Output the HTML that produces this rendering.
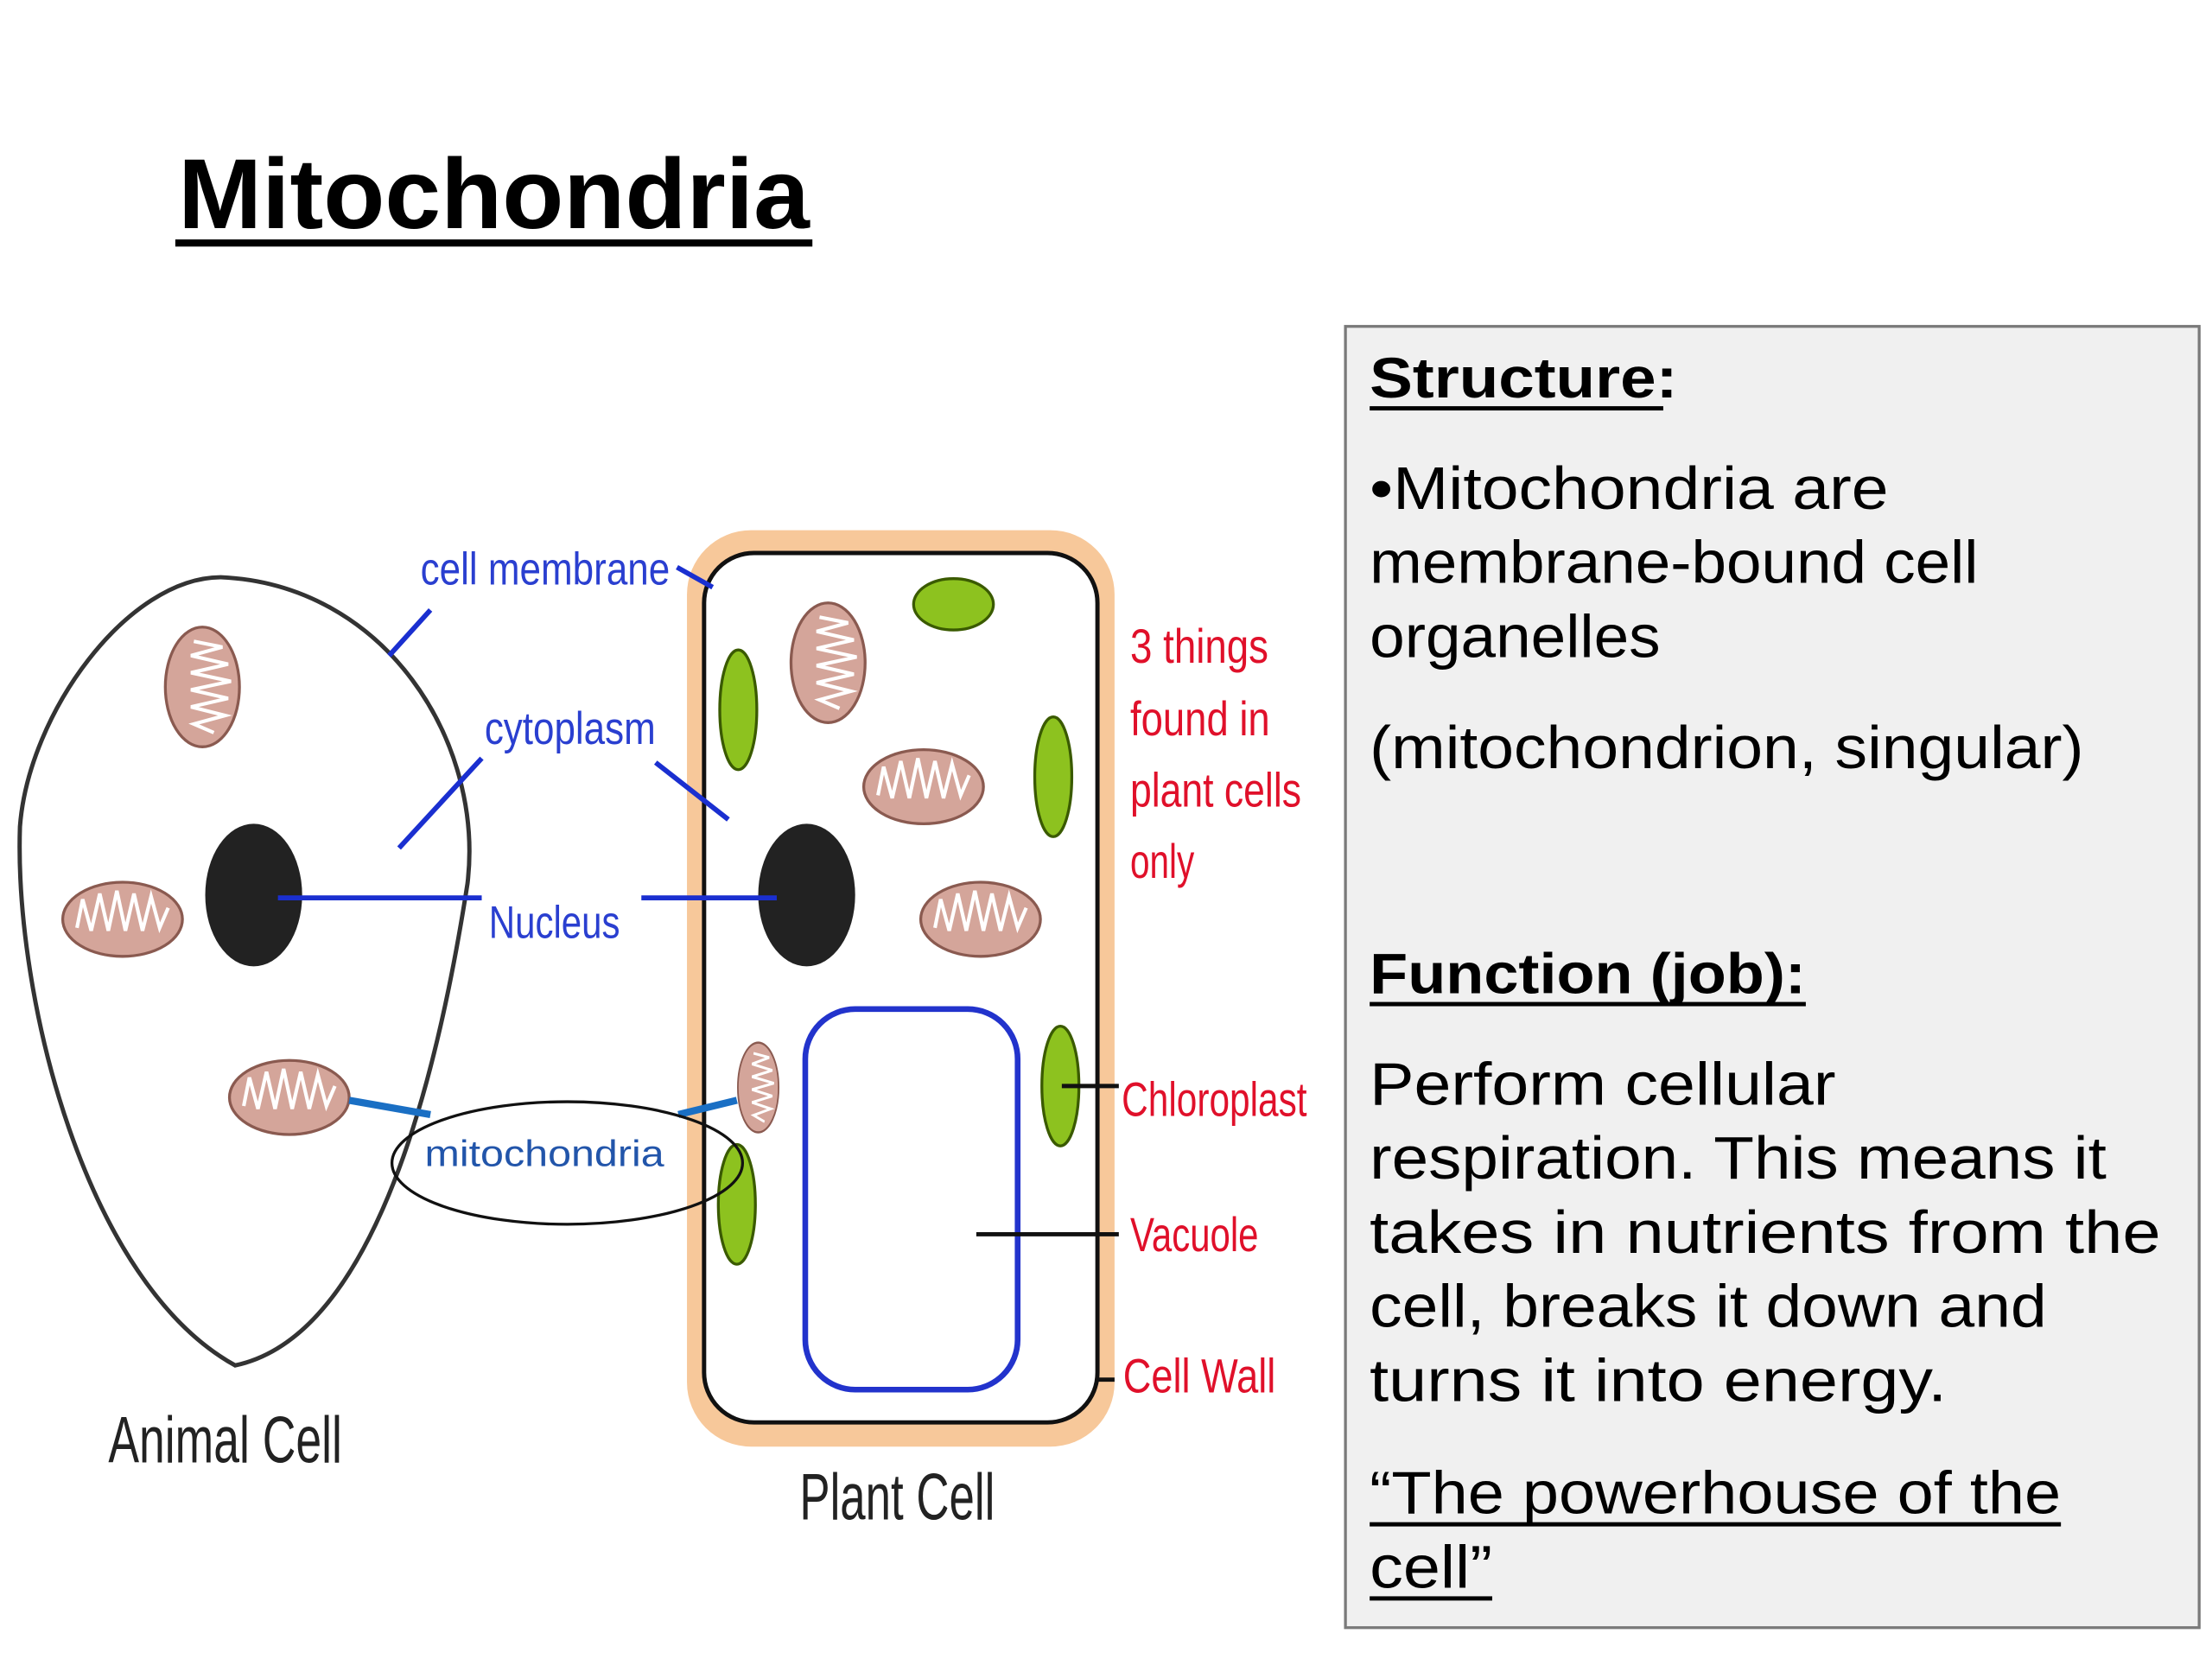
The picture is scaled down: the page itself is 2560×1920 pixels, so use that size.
<!DOCTYPE html>
<html><head><style>html,body{margin:0;padding:0;background:#fff}svg{display:block}</style></head>
<body>
<svg width="2560" height="1920" viewBox="0 0 1552 1164" preserveAspectRatio="none" xmlns="http://www.w3.org/2000/svg">
<defs>
<g id="mh">
<ellipse cx="0" cy="0" rx="42" ry="26" fill="#d4a59a" stroke="#8a5a50" stroke-width="2"/>
<path d="M-32,6 L-28,-14 L-22,8 L-16,-18 L-10,8 L-4,-20 L2,8 L8,-18 L14,8 L20,-16 L26,6 L32,-8" fill="none" stroke="#fff" stroke-width="2.5"/>
</g>
</defs>
<rect width="1552" height="1164" fill="#fff"/>
<text x="125" y="160" font-family="'Comic Sans MS','Liberation Sans',sans-serif" font-weight="bold" font-size="70" textLength="443" lengthAdjust="spacingAndGlyphs">Mitochondria</text>
<rect x="123" y="168" width="447" height="5" fill="#000"/>

<rect x="944" y="229" width="599" height="913" fill="#f0f0f0" stroke="#7a7a7a" stroke-width="2"/>
<g font-family="'Comic Sans MS','Liberation Sans',sans-serif" font-size="42" fill="#000">
<text x="961" y="279" font-weight="bold" font-size="40" textLength="216" lengthAdjust="spacingAndGlyphs">Structure:</text>
<rect x="961" y="285" width="206" height="3"/>
<text x="961" y="357" textLength="364" lengthAdjust="spacingAndGlyphs">•Mitochondria are</text>
<text x="961" y="409" textLength="427" lengthAdjust="spacingAndGlyphs">membrane-bound cell</text>
<text x="961" y="461" textLength="204" lengthAdjust="spacingAndGlyphs">organelles</text>
<text x="961" y="539" textLength="501" lengthAdjust="spacingAndGlyphs">(mitochondrion, singular)</text>
<text x="961" y="697" font-weight="bold" font-size="40" textLength="306" lengthAdjust="spacingAndGlyphs">Function (job):</text>
<rect x="961" y="703" width="306" height="3"/>
<text x="961" y="775" textLength="327" lengthAdjust="spacingAndGlyphs">Perform cellular</text>
<text x="961" y="827" textLength="517" lengthAdjust="spacingAndGlyphs">respiration. This means it</text>
<text x="961" y="879" textLength="555" lengthAdjust="spacingAndGlyphs">takes in nutrients from the</text>
<text x="961" y="931" textLength="475" lengthAdjust="spacingAndGlyphs">cell, breaks it down and</text>
<text x="961" y="983" textLength="405" lengthAdjust="spacingAndGlyphs">turns it into energy.</text>
<text x="961" y="1062" textLength="485" lengthAdjust="spacingAndGlyphs">“The powerhouse of the</text>
<rect x="961" y="1068" width="485" height="3"/>
<text x="961" y="1114" textLength="86" lengthAdjust="spacingAndGlyphs">cell”</text>
<rect x="961" y="1120" width="86" height="3"/>
</g>

<!-- animal cell -->
<path d="M155,405 C90,405 20,500 14,580 C10,700 60,900 165,958 C250,940 300,800 328,620 C340,520 270,410 155,405 Z" fill="#fff" stroke="#333" stroke-width="3"/>
<ellipse cx="178" cy="628" rx="34" ry="50" fill="#222"/>
<use href="#mh" transform="translate(142,482) rotate(90)"/>
<use href="#mh" transform="translate(86,645)"/>
<use href="#mh" transform="translate(203,770)"/>

<!-- plant cell -->
<rect x="482" y="372" width="300" height="643" rx="45" fill="#f7c89a"/>
<rect x="494" y="388" width="276" height="610" rx="35" fill="#fff" stroke="#111" stroke-width="3"/>
<ellipse cx="566" cy="628" rx="34" ry="50" fill="#222"/>
<g fill="#8dc21f" stroke="#3a5a00" stroke-width="2">
<ellipse cx="669" cy="424" rx="28" ry="18"/>
<ellipse cx="518" cy="498" rx="13" ry="42"/>
<ellipse cx="739" cy="545" rx="13" ry="42"/>
<ellipse cx="744" cy="762" rx="13" ry="42"/>
<ellipse cx="517" cy="845" rx="13" ry="42"/>
</g>
<rect x="565" y="708" width="149" height="267" rx="35" fill="none" stroke="#2233cc" stroke-width="4"/>
<use href="#mh" transform="translate(581,465) rotate(90)"/>
<use href="#mh" transform="translate(648,552)"/>
<use href="#mh" transform="translate(688,645)"/>
<use href="#mh" transform="translate(532,763) rotate(90) scale(0.75,0.55)"/>

<!-- blue labels -->
<g stroke="#1a2fd0" stroke-width="3.5">
<line x1="302" y1="428" x2="273" y2="460"/>
<line x1="475" y1="398" x2="500" y2="412"/>
<line x1="338" y1="532" x2="280" y2="595"/>
<line x1="460" y1="535" x2="511" y2="575"/>
<line x1="195" y1="630" x2="338" y2="630"/>
<line x1="450" y1="630" x2="545" y2="630"/>
</g>
<g font-family="'Liberation Sans Narrow','Liberation Sans',sans-serif" font-size="32" fill="#2a3fd0">
<text x="295" y="410" textLength="175" lengthAdjust="spacingAndGlyphs">cell membrane</text>
<text x="340" y="522" textLength="120" lengthAdjust="spacingAndGlyphs">cytoplasm</text>
<text x="343" y="658" textLength="92" lengthAdjust="spacingAndGlyphs">Nucleus</text>
</g>
<g stroke="#1a6fc4" stroke-width="5">
<line x1="245" y1="772" x2="302" y2="782"/>
<line x1="476" y1="782" x2="517" y2="772"/>
</g>
<ellipse cx="398" cy="816" rx="123" ry="43" fill="none" stroke="#111" stroke-width="2"/>
<text x="298" y="818" font-family="'Liberation Sans',sans-serif" font-size="26" fill="#2255aa" textLength="168" lengthAdjust="spacingAndGlyphs">mitochondria</text>

<!-- red labels -->
<g stroke="#111" stroke-width="3">
<line x1="745" y1="762" x2="785" y2="762"/>
<line x1="685" y1="866" x2="785" y2="866"/>
<line x1="770" y1="968" x2="782" y2="968"/>
</g>
<g font-family="'Liberation Sans Narrow','Liberation Sans',sans-serif" font-size="34" fill="#e0102a">
<text x="793" y="465" textLength="97" lengthAdjust="spacingAndGlyphs">3 things</text>
<text x="793" y="516" textLength="98" lengthAdjust="spacingAndGlyphs">found in</text>
<text x="793" y="566" textLength="120" lengthAdjust="spacingAndGlyphs">plant cells</text>
<text x="793" y="616" textLength="45" lengthAdjust="spacingAndGlyphs">only</text>
<text x="787" y="783" textLength="130" lengthAdjust="spacingAndGlyphs">Chloroplast</text>
<text x="793" y="878" textLength="90" lengthAdjust="spacingAndGlyphs">Vacuole</text>
<text x="788" y="977" textLength="107" lengthAdjust="spacingAndGlyphs">Cell Wall</text>
</g>
<g font-family="'Liberation Sans Narrow','Liberation Sans',sans-serif" font-size="46" fill="#222">
<text x="76" y="1026" textLength="164" lengthAdjust="spacingAndGlyphs">Animal Cell</text>
<text x="561" y="1066" textLength="137" lengthAdjust="spacingAndGlyphs">Plant Cell</text>
</g>
</svg>
</body></html>
